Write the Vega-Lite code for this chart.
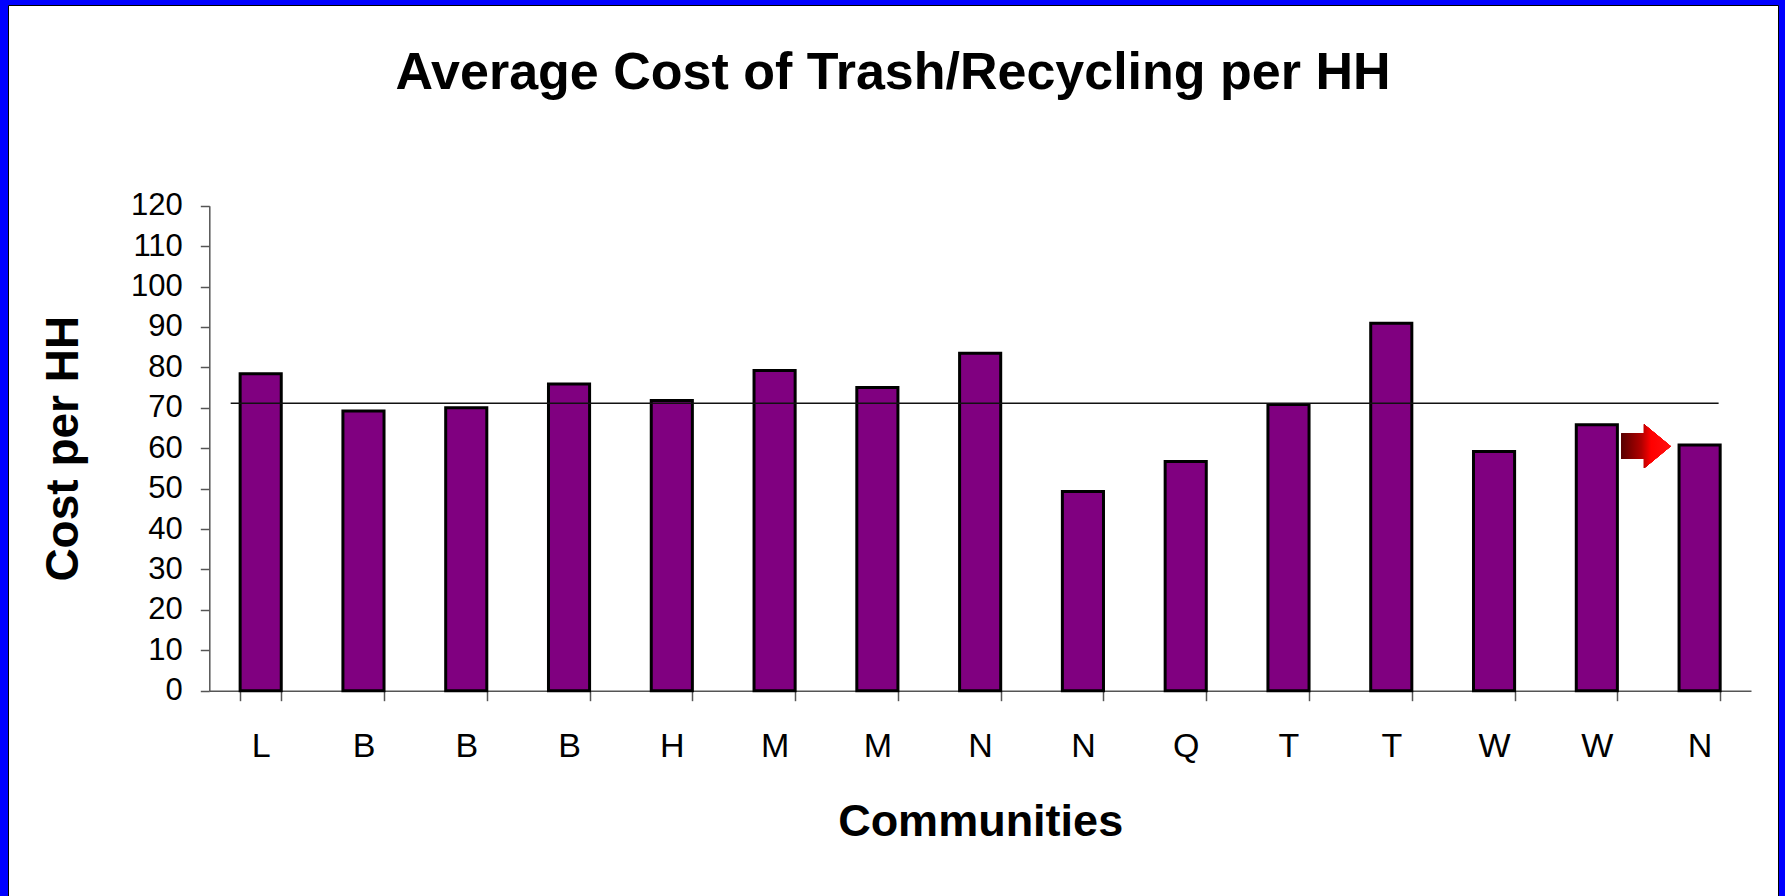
{
  "$schema": "https://vega.github.io/schema/vega-lite/v6.json",
  "width": 1770,
  "height": 892,
  "autosize": {"type": "none"},
  "padding": {"left": 8, "top": 5, "right": 7, "bottom": 0},
  "background": "#0000ff",
  "config": {
    "view": {"fill": "#ffffff", "stroke": "#000000", "strokeWidth": 1},
    "font": "Liberation Sans"
  },
  "title": {
    "text": "Average Cost of Trash/Recycling per HH",
    "font": "Liberation Sans",
    "fontSize": 52,
    "fontWeight": "bold",
    "color": "#000000",
    "anchor": "middle",
    "frame": "group",
    "baseline": "alphabetic",
    "offset": -136
  },
  "data": {
    "values": [
      {"community": "L1", "cost": 78.4},
      {"community": "B1", "cost": 69.2},
      {"community": "B2", "cost": 70.0},
      {"community": "B3", "cost": 75.9},
      {"community": "H1", "cost": 71.8},
      {"community": "M1", "cost": 79.2},
      {"community": "M2", "cost": 75.0},
      {"community": "N1", "cost": 83.5},
      {"community": "N2", "cost": 49.3},
      {"community": "Q1", "cost": 56.7},
      {"community": "T1", "cost": 70.8},
      {"community": "T2", "cost": 90.9},
      {"community": "W1", "cost": 59.2},
      {"community": "W2", "cost": 65.8},
      {"community": "N3", "cost": 60.8}
    ]
  },
  "layer": [
    {
      "mark": {"type": "bar", "fill": "#800080", "stroke": "#000000", "strokeWidth": 3},
      "encoding": {
        "x": {
          "field": "community",
          "type": "nominal",
          "sort": null,
          "title": "Communities",
          "scale": {"range": [201.3, 1743], "paddingInner": 0.6, "paddingOuter": 0.3},
          "axis": {
            "labelExpr": "substring(datum.label, 0, 1)",
            "labelFont": "Liberation Sans",
            "labelFontSize": 34,
            "labelColor": "#000000",
            "labelAngle": 0,
            "labelPadding": 29,
            "labelOverlap": false,
            "tickBand": "extent",
            "tickSize": 10,
            "tickColor": "#555555",
            "tickWidth": 1.5,
            "domainColor": "#555555",
            "domainWidth": 1.5,
            "offset": -206.3,
            "grid": false,
            "titleFont": "Liberation Sans",
            "titleFontSize": 45,
            "titleFontWeight": "bold",
            "titleColor": "#000000",
            "titlePadding": 36
          }
        },
        "y": {
          "field": "cost",
          "type": "quantitative",
          "title": "Cost per HH",
          "scale": {"domain": [0, 120], "range": [685.7, 200.7], "nice": false, "zero": true},
          "axis": {
            "values": [0, 10, 20, 30, 40, 50, 60, 70, 80, 90, 100, 110, 120],
            "labelFont": "Liberation Sans",
            "labelFontSize": 31,
            "labelColor": "#000000",
            "labelPadding": 18,
            "labelOverlap": false,
            "tickSize": 9,
            "tickColor": "#555555",
            "tickWidth": 1.5,
            "domainColor": "#555555",
            "domainWidth": 1.5,
            "offset": -201.3,
            "grid": false,
            "titleFont": "Liberation Sans",
            "titleFontSize": 46,
            "titleFontWeight": "bold",
            "titleColor": "#000000",
            "titlePadding": 43
          }
        }
      }
    },
    {
      "transform": [
        {"filter": "datum.community != 'N3'"},
        {"aggregate": [{"op": "mean", "field": "cost", "as": "avg"}]}
      ],
      "mark": {"type": "rule", "stroke": "#111111", "strokeWidth": 1.5, "xOffset": -30, "x2Offset": 19},
      "encoding": {
        "x": {"datum": "L1"},
        "x2": {"datum": "N3"},
        "y": {"field": "avg", "type": "quantitative"}
      }
    },
    {
      "mark": {
        "type": "point",
        "shape": "M-1,-0.52L-0.09,-0.52L-0.09,-0.9L1,0L-0.09,0.9L-0.09,0.52L-1,0.52Z",
        "size": 2401,
        "filled": true,
        "opacity": 1,
        "strokeWidth": 0,
        "fill": {
          "gradient": "linear",
          "x1": 0, "y1": 0, "x2": 1, "y2": 0,
          "stops": [
            {"offset": 0, "color": "#5a0000"},
            {"offset": 0.4, "color": "#b00000"},
            {"offset": 0.6, "color": "#ff0000"},
            {"offset": 1, "color": "#ff1010"}
          ]
        }
      },
      "encoding": {
        "x": {"datum": "W2", "bandPosition": 1.7},
        "y": {"datum": 60.5}
      }
    }
  ]
}
